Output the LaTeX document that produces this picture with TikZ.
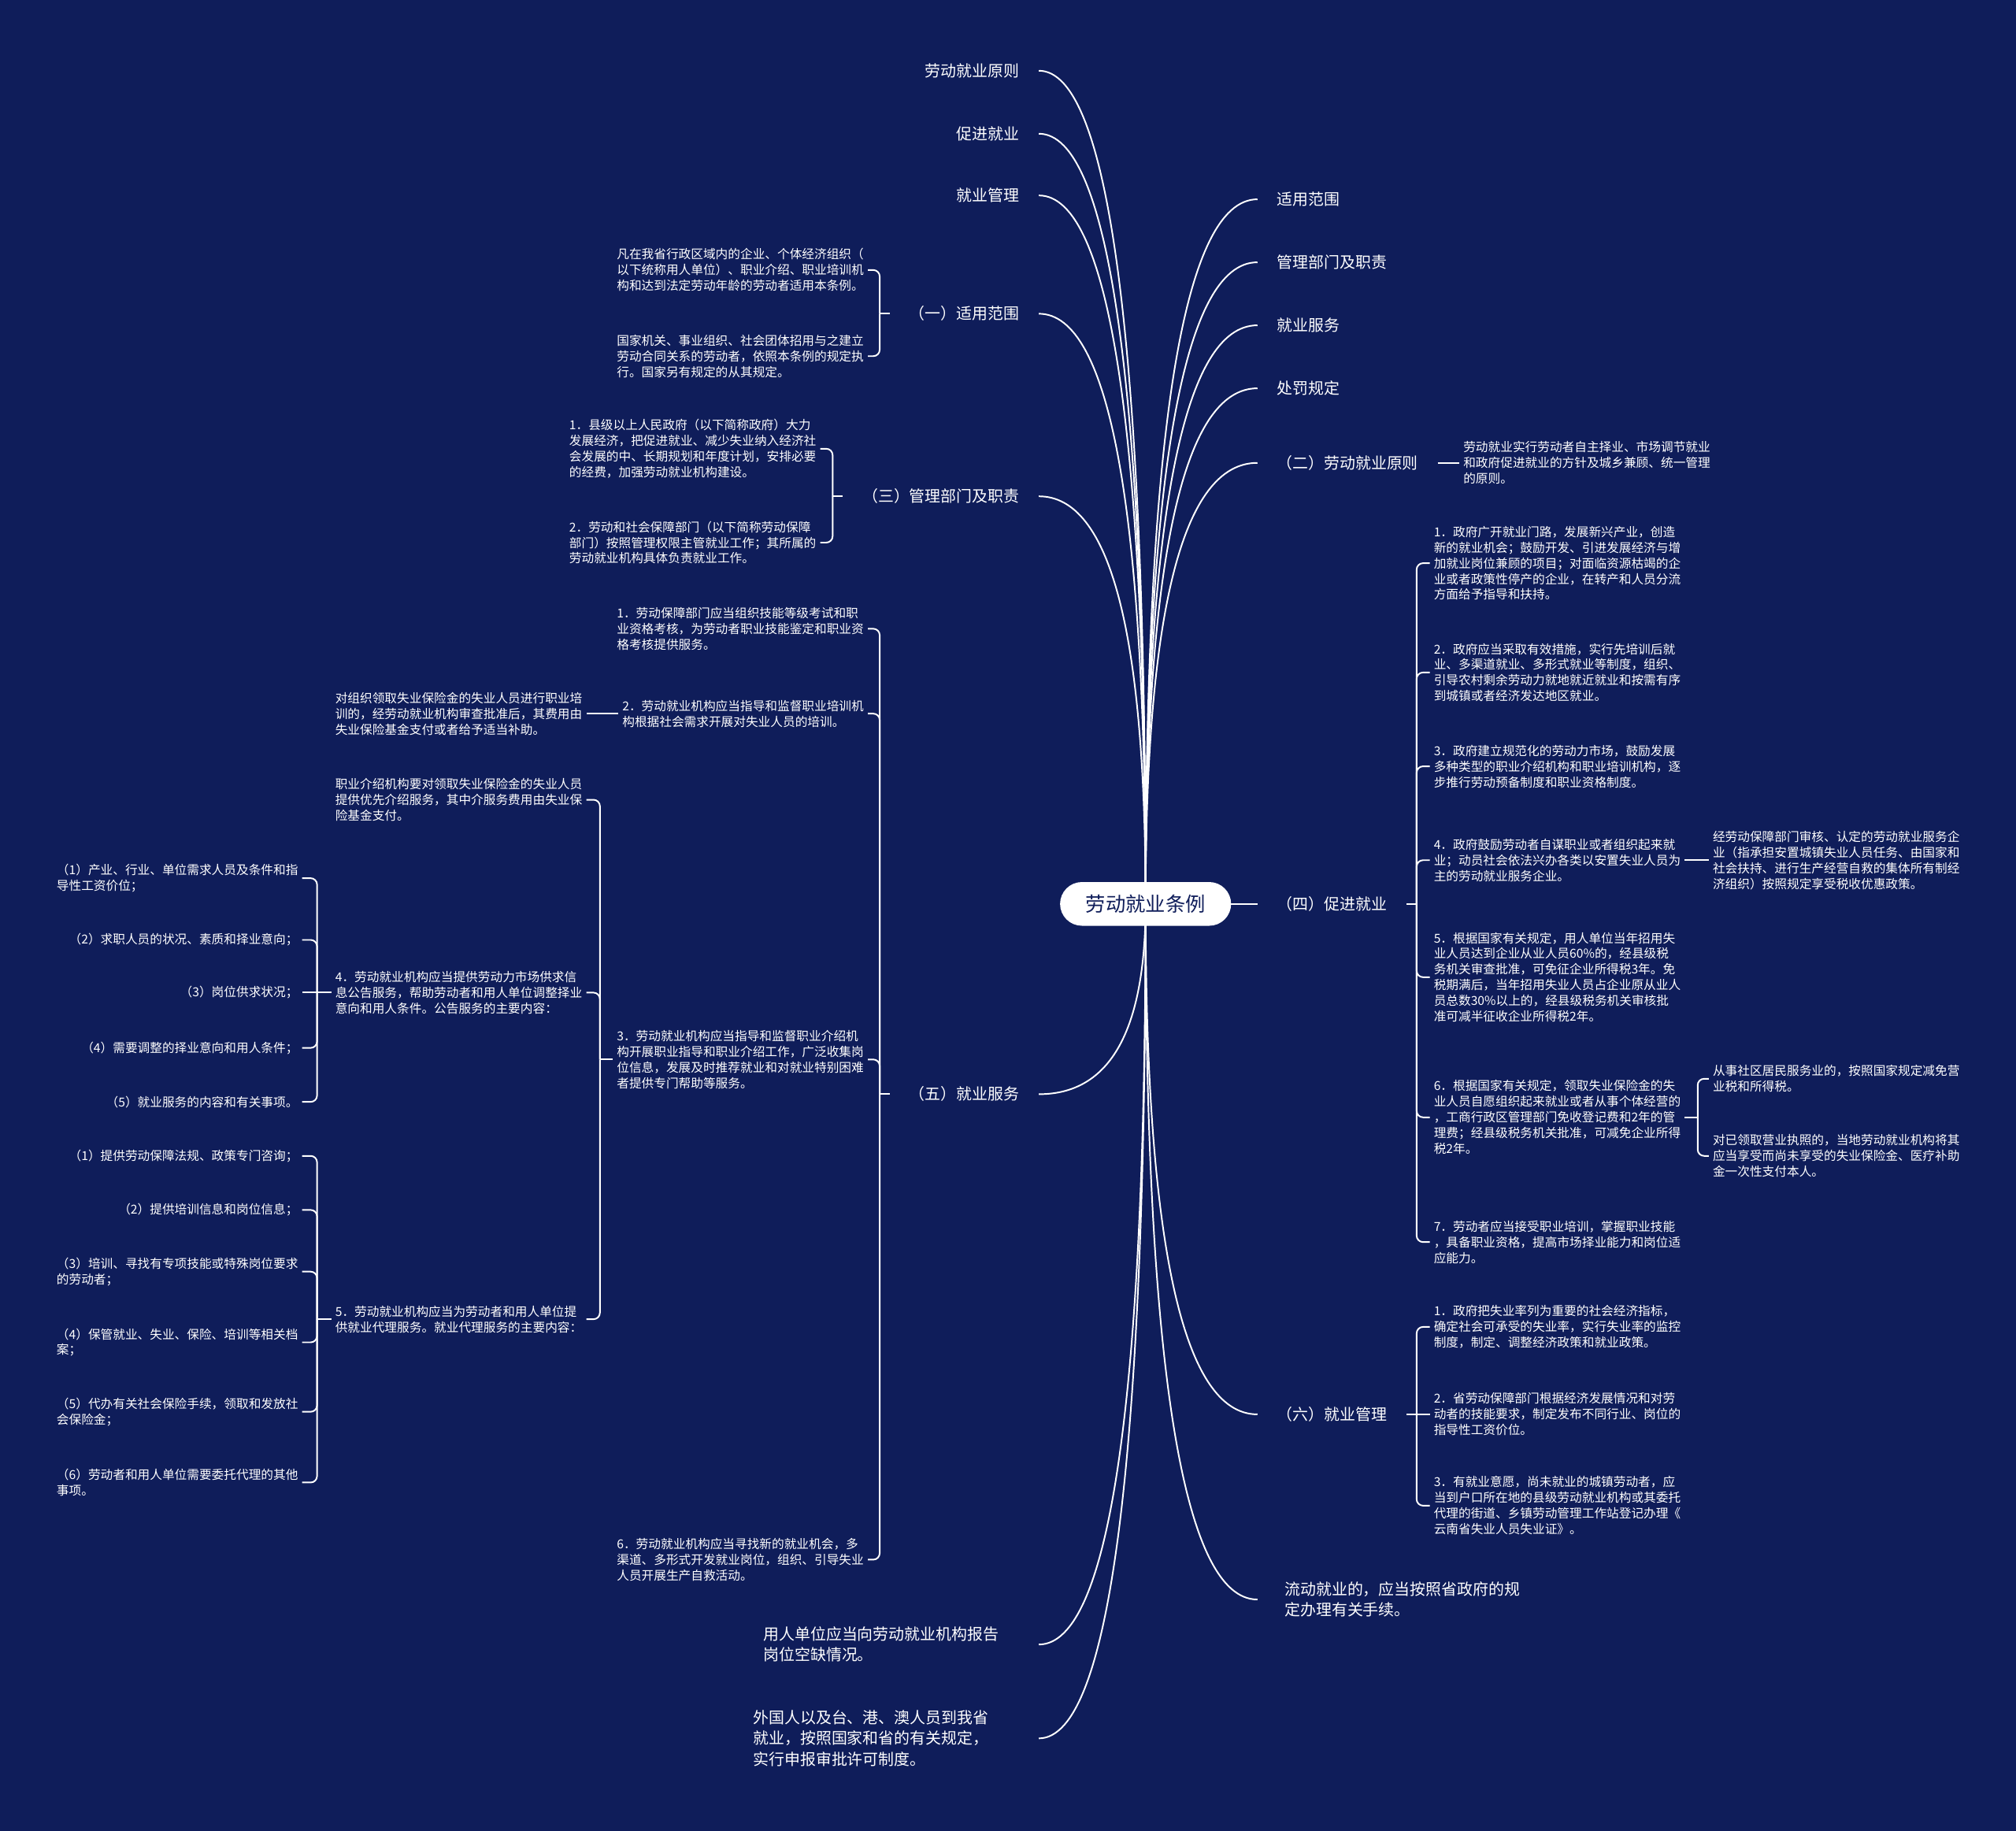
\documentclass[tikz,border=0pt]{standalone}
\usepackage{fontspec}
\setmainfont{Noto Sans CJK SC}
\usetikzlibrary{calc, backgrounds}
\definecolor{bgnavy}{RGB}{15,29,90}
\newcommand{\rootfont}{\fontsize{15.5pt}{18pt}\selectfont}
\newcommand{\topicfont}{\fontsize{12.2pt}{16pt}\selectfont}
\newcommand{\leaffont}{\fontsize{9.6pt}{12.2pt}\selectfont}

\begin{document}
\begin{tikzpicture}[x=1pt, y=-1pt,
  rootnode/.style={fill=white, text=bgnavy, rounded corners=17pt, minimum width=133pt,
                   minimum height=34pt, font=\rootfont},
  topic/.style={text=white, font=\topicfont, inner xsep=15pt, align=left},
  topicl/.style={topic, anchor=east},
  topicr/.style={topic, anchor=west},
  leaf/.style={text=white, font=\leaffont, inner xsep=3pt, inner ysep=1pt, align=left},
  leafl/.style={leaf, anchor=east},
  leafr/.style={leaf, anchor=west},
  edgeline/.style={draw=white, line width=1.2pt},
  bracehook/.style={edgeline, rounded corners=5pt},
  mapcurve/.style={to path={.. controls ($(\tikztostart)!0.667!(\tikztostart |- \tikztotarget)$)
                   and ($(\tikztotarget)!0.667!(\tikztostart |- \tikztotarget)$) .. (\tikztotarget)}},
]

\useasboundingbox (0,0) rectangle (1568,1424);

% ---- Root ----
\node[rootnode] (root) at (891,703) {劳动就业条例};

% ---- Left topics ----
\node[topicl] (L1) at (808,55) {劳动就业原则};
\node[topicl] (L2) at (808,104) {促进就业};
\node[topicl] (L3) at (808,152) {就业管理};
\node[topicl] (LA) at (808,244) {（一）适用范围};
\node[topicl] (LC) at (808,386) {（三）管理部门及职责};
\node[topicl] (LE) at (808,851) {（五）就业服务};
\node[topicl, inner xsep=31pt] (LF) at (808,1279) {用人单位应当向劳动就业机构报告\\岗位空缺情况。};
\node[topicl, inner xsep=39pt] (LG) at (808,1352) {外国人以及台、港、澳人员到我省\\就业，按照国家和省的有关规定，\\实行申报审批许可制度。};

% ---- Right topics ----
\node[topicr] (R1) at (978,155) {适用范围};
\node[topicr] (R2) at (978,204) {管理部门及职责};
\node[topicr] (R3) at (978,253) {就业服务};
\node[topicr] (R4) at (978,302) {处罚规定};
\node[topicr] (RB) at (978,360) {（二）劳动就业原则};
\node[topicr] (RD) at (978,703) {（四）促进就业};
\node[topicr] (RF) at (978,1100) {（六）就业管理};
\node[topicr, inner xsep=21pt] (RG) at (978,1244) {流动就业的，应当按照省政府的规\\定办理有关手续。};

% ---- (一) 适用范围 ----
\node[leafl] (A1) at (675,210) {凡在我省行政区域内的企业、个体经济组织（\\以下统称用人单位）、职业介绍、职业培训机\\构和达到法定劳动年龄的劳动者适用本条例。};
\node[leafl] (A2) at (675,277) {国家机关、事业组织、社会团体招用与之建立\\劳动合同关系的劳动者，依照本条例的规定执\\行。国家另有规定的从其规定。};

% ---- (三) 管理部门及职责 ----
\node[leafl] (C1) at (638,349) {1．县级以上人民政府（以下简称政府）大力\\发展经济，把促进就业、减少失业纳入经济社\\会发展的中、长期规划和年度计划，安排必要\\的经费，加强劳动就业机构建设。};
\node[leafl] (C2) at (638,422) {2．劳动和社会保障部门（以下简称劳动保障\\部门）按照管理权限主管就业工作；其所属的\\劳动就业机构具体负责就业工作。};

% ---- (五) 就业服务 ----
\node[leafl] (E1) at (675,489) {1．劳动保障部门应当组织技能等级考试和职\\业资格考核，为劳动者职业技能鉴定和职业资\\格考核提供服务。};
\node[leafl] (E2) at (675,555) {2．劳动就业机构应当指导和监督职业培训机\\构根据社会需求开展对失业人员的培训。};
\node[leafl] (E2a) at (456,555) {对组织领取失业保险金的失业人员进行职业培\\训的，经劳动就业机构审查批准后，其费用由\\失业保险基金支付或者给予适当补助。};
\node[leafl] (E3) at (675,824) {3．劳动就业机构应当指导和监督职业介绍机\\构开展职业指导和职业介绍工作，广泛收集岗\\位信息，发展及时推荐就业和对就业特别困难\\者提供专门帮助等服务。};
\node[leafl] (E3a) at (456,622) {职业介绍机构要对领取失业保险金的失业人员\\提供优先介绍服务，其中介服务费用由失业保\\险基金支付。};
\node[leafl] (E3b) at (456,772) {4．劳动就业机构应当提供劳动力市场供求信\\息公告服务，帮助劳动者和用人单位调整择业\\意向和用人条件。公告服务的主要内容：};
\node[leafl] (E3c) at (456,1026) {5．劳动就业机构应当为劳动者和用人单位提\\供就业代理服务。就业代理服务的主要内容：};
\node[leafl] (E6) at (675,1213) {6．劳动就业机构应当寻找新的就业机会，多\\渠道、多形式开发就业岗位，组织、引导失业\\人员开展生产自救活动。};

% ---- 公告服务的主要内容 ----
\node[leafl] (B1) at (235,683) {（1）产业、行业、单位需求人员及条件和指\\导性工资价位；};
\node[leafl] (B2) at (235,731) {（2）求职人员的状况、素质和择业意向；};
\node[leafl] (B3) at (235,772) {（3）岗位供求状况；};
\node[leafl] (B4) at (235,815) {（4）需要调整的择业意向和用人条件；};
\node[leafl] (B5) at (235,857) {（5）就业服务的内容和有关事项。};

% ---- 就业代理服务的主要内容 ----
\node[leafl] (K1) at (235,899) {（1）提供劳动保障法规、政策专门咨询；};
\node[leafl] (K2) at (235,941) {（2）提供培训信息和岗位信息；};
\node[leafl] (K3) at (235,989) {（3）培训、寻找有专项技能或特殊岗位要求\\的劳动者；};
\node[leafl] (K4) at (235,1044) {（4）保管就业、失业、保险、培训等相关档\\案；};
\node[leafl] (K5) at (235,1098) {（5）代办有关社会保险手续，领取和发放社\\会保险金；};
\node[leafl] (K6) at (235,1153) {（6）劳动者和用人单位需要委托代理的其他\\事项。};

% ---- (二) 劳动就业原则 ----
\node[leafr] (RB1) at (1135,360) {劳动就业实行劳动者自主择业、市场调节就业\\和政府促进就业的方针及城乡兼顾、统一管理\\的原则。};

% ---- (四) 促进就业 ----
\node[leafr] (D1) at (1112,438) {1．政府广开就业门路，发展新兴产业，创造\\新的就业机会；鼓励开发、引进发展经济与增\\加就业岗位兼顾的项目；对面临资源枯竭的企\\业或者政策性停产的企业，在转产和人员分流\\方面给予指导和扶持。};
\node[leafr] (D2) at (1112,523) {2．政府应当采取有效措施，实行先培训后就\\业、多渠道就业、多形式就业等制度，组织、\\引导农村剩余劳动力就地就近就业和按需有序\\到城镇或者经济发达地区就业。};
\node[leafr] (D3) at (1112,596) {3．政府建立规范化的劳动力市场，鼓励发展\\多种类型的职业介绍机构和职业培训机构，逐\\步推行劳动预备制度和职业资格制度。};
\node[leafr] (D4) at (1112,669) {4．政府鼓励劳动者自谋职业或者组织起来就\\业；动员社会依法兴办各类以安置失业人员为\\主的劳动就业服务企业。};
\node[leafr] (D4a) at (1329,669) {经劳动保障部门审核、认定的劳动就业服务企\\业（指承担安置城镇失业人员任务、由国家和\\社会扶持、进行生产经营自救的集体所有制经\\济组织）按照规定享受税收优惠政策。};
\node[leafr] (D5) at (1112,760) {5．根据国家有关规定，用人单位当年招用失\\业人员达到企业从业人员60\%的，经县级税\\务机关审查批准，可免征企业所得税3年。免\\税期满后，当年招用失业人员占企业原从业人\\员总数30\%以上的，经县级税务机关审核批\\准可减半征收企业所得税2年。};
\node[leafr] (D6) at (1112,869) {6．根据国家有关规定，领取失业保险金的失\\业人员自愿组织起来就业或者从事个体经营的\\，工商行政区管理部门免收登记费和2年的管\\理费；经县级税务机关批准，可减免企业所得\\税2年。};
\node[leafr] (D6a) at (1329,839) {从事社区居民服务业的，按照国家规定减免营\\业税和所得税。};
\node[leafr] (D6b) at (1329,899) {对已领取营业执照的，当地劳动就业机构将其\\应当享受而尚未享受的失业保险金、医疗补助\\金一次性支付本人。};
\node[leafr] (D7) at (1112,966) {7．劳动者应当接受职业培训，掌握职业技能\\，具备职业资格，提高市场择业能力和岗位适\\应能力。};

% ---- (六) 就业管理 ----
\node[leafr] (F1) at (1112,1032) {1．政府把失业率列为重要的社会经济指标，\\确定社会可承受的失业率，实行失业率的监控\\制度，制定、调整经济政策和就业政策。};
\node[leafr] (F2) at (1112,1100) {2．省劳动保障部门根据经济发展情况和对劳\\动者的技能要求，制定发布不同行业、岗位的\\指导性工资价位。};
\node[leafr] (F3) at (1112,1171) {3．有就业意愿，尚未就业的城镇劳动者，应\\当到户口所在地的县级劳动就业机构或其委托\\代理的街道、乡镇劳动管理工作站登记办理《\\云南省失业人员失业证》。};

% ---- Background and connectors ----
\begin{scope}[on background layer]
  \fill[bgnavy] (0,0) rectangle (1568,1424);

  % Root -> topics
  \draw[edgeline] (root.center) to[mapcurve] (L1.east);
  \draw[edgeline] (root.center) to[mapcurve] (L2.east);
  \draw[edgeline] (root.center) to[mapcurve] (L3.east);
  \draw[edgeline] (root.center) to[mapcurve] (LA.east);
  \draw[edgeline] (root.center) to[mapcurve] (LC.east);
  \draw[edgeline] (root.center) to[mapcurve] (LE.east);
  \draw[edgeline] (root.center) to[mapcurve] (LF.east);
  \draw[edgeline] (root.center) to[mapcurve] (LG.east);
  \draw[edgeline] (root.center) to[mapcurve] (R1.west);
  \draw[edgeline] (root.center) to[mapcurve] (R2.west);
  \draw[edgeline] (root.center) to[mapcurve] (R3.west);
  \draw[edgeline] (root.center) to[mapcurve] (R4.west);
  \draw[edgeline] (root.center) to[mapcurve] (RB.west);
  \draw[edgeline] (root.center) to[mapcurve] (RD.west);
  \draw[edgeline] (root.center) to[mapcurve] (RF.west);
  \draw[edgeline] (root.center) to[mapcurve] (RG.west);

  % (一)
  \draw[edgeline] (LA.west) -- ++(-8,0) coordinate (LAj);
  \draw[bracehook] (LAj) |- (A1.east);
  \draw[bracehook] (LAj) |- (A2.east);

  % (三)
  \draw[edgeline] (LC.west) -- ++(-8,0) coordinate (LCj);
  \draw[bracehook] (LCj) |- (C1.east);
  \draw[bracehook] (LCj) |- (C2.east);

  % (五)
  \draw[edgeline] (LE.west) -- ++(-8,0) coordinate (LEj);
  \draw[bracehook] (LEj) |- (E1.east);
  \draw[bracehook] (LEj) |- (E2.east);
  \draw[bracehook] (LEj) |- (E3.east);
  \draw[bracehook] (LEj) |- (E6.east);
  \draw[edgeline] (E2.west) -- (E2a.east);

  \draw[edgeline] (E3.west) -- ++(-10,0) coordinate (E3j);
  \draw[bracehook] (E3j) |- (E3a.east);
  \draw[bracehook] (E3j) |- (E3b.east);
  \draw[bracehook] (E3j) |- (E3c.east);

  \draw[edgeline] (E3b.west) -- ++(-11,0) coordinate (E3bj);
  \draw[bracehook] (E3bj) |- (B1.east);
  \draw[bracehook] (E3bj) |- (B2.east);
  \draw[edgeline] (E3bj) -- (B3.east);
  \draw[bracehook] (E3bj) |- (B4.east);
  \draw[bracehook] (E3bj) |- (B5.east);

  \draw[edgeline] (E3c.west) -- ++(-11,0) coordinate (E3cj);
  \draw[bracehook] (E3cj) |- (K1.east);
  \draw[bracehook] (E3cj) |- (K2.east);
  \draw[bracehook] (E3cj) |- (K3.east);
  \draw[bracehook] (E3cj) |- (K4.east);
  \draw[bracehook] (E3cj) |- (K5.east);
  \draw[bracehook] (E3cj) |- (K6.east);

  % (二)
  \draw[edgeline] (RB.east) -- (RB1.west);

  % (四)
  \draw[edgeline] (RD.east) -- ++(8,0) coordinate (RDj);
  \draw[bracehook] (RDj) |- (D1.west);
  \draw[bracehook] (RDj) |- (D2.west);
  \draw[bracehook] (RDj) |- (D3.west);
  \draw[bracehook] (RDj) |- (D4.west);
  \draw[bracehook] (RDj) |- (D5.west);
  \draw[bracehook] (RDj) |- (D6.west);
  \draw[bracehook] (RDj) |- (D7.west);
  \draw[edgeline] (D4.east) -- (D4a.west);

  \draw[edgeline] (D6.east) -- ++(10,0) coordinate (D6j);
  \draw[bracehook] (D6j) |- (D6a.west);
  \draw[bracehook] (D6j) |- (D6b.west);

  % (六)
  \draw[edgeline] (RF.east) -- ++(8,0) coordinate (RFj);
  \draw[bracehook] (RFj) |- (F1.west);
  \draw[edgeline] (RFj) -- (F2.west);
  \draw[bracehook] (RFj) |- (F3.west);
\end{scope}

\end{tikzpicture}
\end{document}
